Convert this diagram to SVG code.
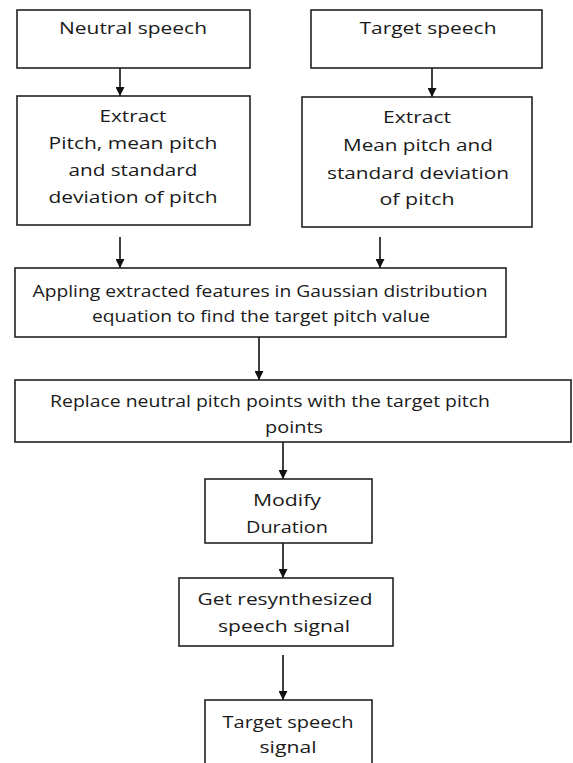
<svg xmlns="http://www.w3.org/2000/svg" width="573" height="763" viewBox="0 0 573 763">
  <defs>
    <marker id="arrow" viewBox="0 0 10 10" refX="10" refY="5" markerWidth="9" markerHeight="9" markerUnits="userSpaceOnUse" orient="auto">
      <path d="M0,0 L10,5 L0,10 z" fill="#111"/>
    </marker>
    <style>
      .box { fill: #fff; stroke: #222; stroke-width: 1.6; }
      .lbl { font-family: "Open Sans", "Liberation Sans", sans-serif; font-size: 17px; fill: #1a1a1a; text-anchor: middle; }
      .edge { stroke: #111; stroke-width: 1.6; fill: none; marker-end: url(#arrow); }
    </style>
  </defs>
  <rect width="573" height="763" fill="#fff"/>

  <g id="connectors">
    <line class="edge" x1="120" y1="68" x2="120" y2="96"/>
    <line class="edge" x1="432" y1="68" x2="432" y2="97"/>
    <line class="edge" x1="120" y1="237" x2="120" y2="268"/>
    <line class="edge" x1="380" y1="237" x2="380" y2="268"/>
    <line class="edge" x1="259" y1="337" x2="259" y2="380"/>
    <line class="edge" x1="283" y1="442" x2="283" y2="479"/>
    <line class="edge" x1="283" y1="543" x2="283" y2="578"/>
    <line class="edge" x1="283" y1="655" x2="283" y2="700"/>
  </g>

  <g id="neutral-speech">
    <rect class="box" x="17" y="10" width="233" height="58"/>
    <text class="lbl" x="133" y="34" textLength="148" lengthAdjust="spacingAndGlyphs">Neutral speech</text>
  </g>

  <g id="target-speech">
    <rect class="box" x="311" y="10" width="231" height="58"/>
    <text class="lbl" x="428" y="34" textLength="137" lengthAdjust="spacingAndGlyphs">Target speech</text>
  </g>

  <g id="extract-neutral">
    <rect class="box" x="17" y="96" width="233" height="129"/>
    <text class="lbl" x="133" y="122" textLength="67" lengthAdjust="spacingAndGlyphs">Extract</text>
    <text class="lbl" x="133" y="149" textLength="169" lengthAdjust="spacingAndGlyphs">Pitch, mean pitch</text>
    <text class="lbl" x="133" y="176" textLength="129" lengthAdjust="spacingAndGlyphs">and standard</text>
    <text class="lbl" x="133" y="203" textLength="169" lengthAdjust="spacingAndGlyphs">deviation of pitch</text>
  </g>

  <g id="extract-target">
    <rect class="box" x="302" y="97" width="230" height="130"/>
    <text class="lbl" x="417" y="123" textLength="68" lengthAdjust="spacingAndGlyphs">Extract</text>
    <text class="lbl" x="418" y="151" textLength="150" lengthAdjust="spacingAndGlyphs">Mean pitch and</text>
    <text class="lbl" x="418" y="179" textLength="182" lengthAdjust="spacingAndGlyphs">standard deviation</text>
    <text class="lbl" x="417" y="205" textLength="75" lengthAdjust="spacingAndGlyphs">of pitch</text>
  </g>

  <g id="gaussian">
    <rect class="box" x="15" y="268" width="491" height="69"/>
    <text class="lbl" x="260" y="297" textLength="455" lengthAdjust="spacingAndGlyphs">Appling extracted features in Gaussian distribution</text>
    <text class="lbl" x="261" y="322" textLength="338" lengthAdjust="spacingAndGlyphs">equation to find the target pitch value</text>
  </g>

  <g id="replace">
    <rect class="box" x="15" y="380" width="556" height="62"/>
    <text class="lbl" x="270" y="407" textLength="440" lengthAdjust="spacingAndGlyphs">Replace neutral pitch points with the target pitch</text>
    <text class="lbl" x="294" y="433" textLength="58" lengthAdjust="spacingAndGlyphs">points</text>
  </g>

  <g id="modify-duration">
    <rect class="box" x="205" y="479" width="167" height="64"/>
    <text class="lbl" x="287" y="506" textLength="68" lengthAdjust="spacingAndGlyphs">Modify</text>
    <text class="lbl" x="287" y="533" textLength="82" lengthAdjust="spacingAndGlyphs">Duration</text>
  </g>

  <g id="resynthesize">
    <rect class="box" x="179" y="578" width="214" height="68"/>
    <text class="lbl" x="285" y="605" textLength="175" lengthAdjust="spacingAndGlyphs">Get resynthesized</text>
    <text class="lbl" x="284" y="632" textLength="132" lengthAdjust="spacingAndGlyphs">speech signal</text>
  </g>

  <g id="target-signal">
    <rect class="box" x="205" y="700" width="167" height="80"/>
    <text class="lbl" x="288" y="728" textLength="131" lengthAdjust="spacingAndGlyphs">Target speech</text>
    <text class="lbl" x="288" y="753" textLength="57" lengthAdjust="spacingAndGlyphs">signal</text>
  </g>
</svg>
